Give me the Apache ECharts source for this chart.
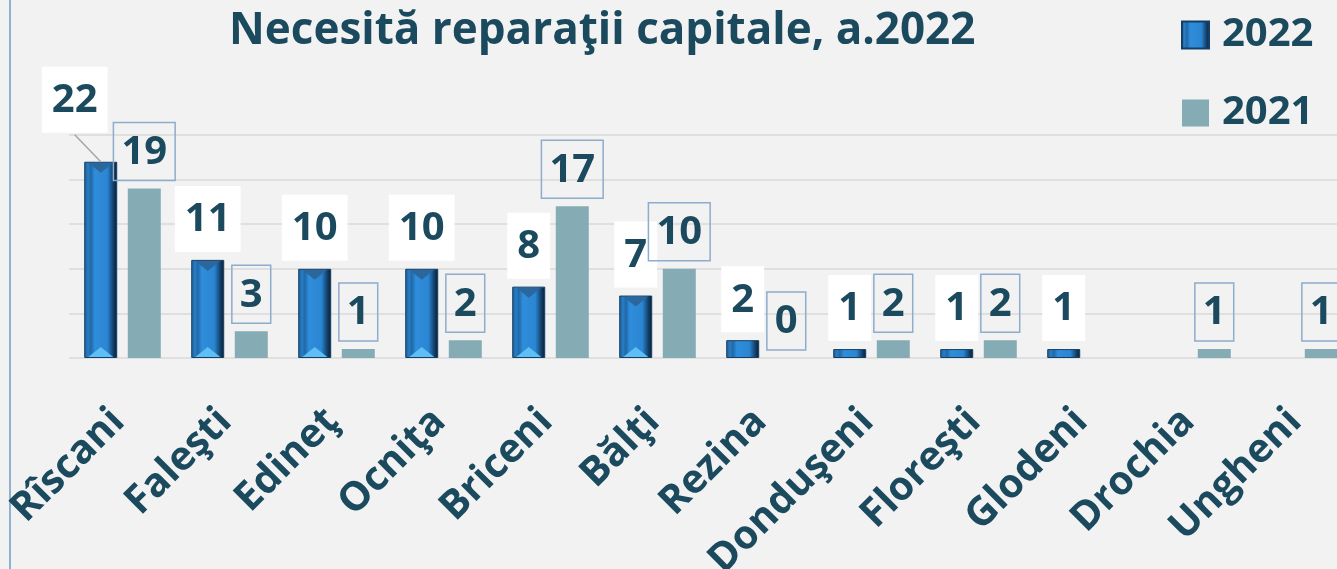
<!DOCTYPE html>
<html>
<head>
<meta charset="utf-8">
<script src="https://cdn.jsdelivr.net/npm/echarts@6/dist/echarts.min.js"></script>
<style>
  html, body { margin: 0; padding: 0; background: #f2f2f2; }
  #chart { width: 1337px; height: 569px; }
</style>
</head>
<body>
<div id="chart"></div>
<script>
const raioane = ['Rîscani', 'Faleşti', 'Edineţ', 'Ocniţa', 'Briceni', 'Bălţi', 'Rezina', 'Donduşeni', 'Floreşti', 'Glodeni', 'Drochia', 'Ungheni'];
const valori2022 = [22, 11, 10, 10, 8, 7, 2, 1, 1, 1, null, null];
const valori2021 = [19, 3, 1, 2, 17, 10, 0, 2, 2, null, 1, 1];
const axaY = { min: 0, max: 25, interval: 5 };

const dark = '#1b4a5e';
const font = 'Open Sans';

// beveled blue look for 2022 bars
const blueGrad = new echarts.graphic.LinearGradient(0, 0, 1, 0, [
  { offset: 0, color: '#1d5d96' },
  { offset: 0.12, color: '#2a7dc2' },
  { offset: 0.2, color: '#1f68a8' },
  { offset: 0.32, color: '#2f8ddb' },
  { offset: 0.7, color: '#2b86d2' },
  { offset: 0.8, color: '#1d5f9a' },
  { offset: 0.9, color: '#12395e' },
  { offset: 1, color: '#0a1e30' },
]);

// the "22" label sits up-left of its bar, with a leader line
const moveFirst = { dx: -26, dy: -21 };

const chart = echarts.init(document.getElementById('chart'), null, { renderer: 'canvas' });

chart.setOption({
  backgroundColor: '#f2f2f2',
  animation: false,
  title: {
    text: 'Necesită reparaţii capitale, a.2022',
    left: 224, top: 4,
    textStyle: { fontFamily: font, fontSize: 44, fontWeight: 'bold', color: dark },
  },
  legend: {
    data: ['2022', '2021'],
    orient: 'vertical',
    left: 1176, top: 10,
    itemWidth: 27, itemHeight: 27, itemGap: 38,
    icon: 'rect',
    selectedMode: false,
    textStyle: { fontFamily: font, fontSize: 40, fontWeight: 'bold', color: dark, padding: [0, 0, 0, 8] },
  },
  graphic: [{
    type: 'line',
    shape: { x1: 10, y1: 0, x2: 10, y2: 569 },
    style: { stroke: '#8fb0d0', lineWidth: 2 },
  }],
  grid: { left: 69, top: 135, width: 1284, bottom: 211, containLabel: false, outerBoundsMode: 'none' },
  xAxis: {
    type: 'category',
    data: raioane,
    axisLine: { show: false },
    axisTick: { show: false },
    axisLabel: {
      interval: 0, rotate: 45, margin: 53,
      padding: [58, 6, 0, 0],
      fontFamily: font, fontSize: 40, fontWeight: 'bold', color: dark,
    },
  },
  yAxis: {
    type: 'value',
    min: axaY.min, max: axaY.max, interval: axaY.interval,
    axisLabel: { show: false },
    axisLine: { show: false },
    axisTick: { show: false },
    splitLine: { lineStyle: { color: '#d9d9d9', width: 1.5 } },
  },
  series: [
    {
      name: '2022',
      type: 'bar',
      barWidth: 33, barGap: '32%',
      data: valori2022,
      itemStyle: { color: blueGrad, borderColor: '#123f66', borderWidth: 1 },
      label: {
        show: true, position: 'top', distance: 8,
        fontFamily: font, fontSize: 40, fontWeight: 'bold', color: dark,
        backgroundColor: '#ffffff', padding: [14, 10, 12, 10],
      },
      labelLayout: p => p.dataIndex === 0 ? { dx: moveFirst.dx, dy: moveFirst.dy } : null,
      z: 2,
    },
    {
      name: '2021',
      type: 'bar',
      barWidth: 33, barGap: '32%',
      data: valori2021,
      itemStyle: { color: '#85abb5' },
      label: {
        show: true, position: 'top', distance: 8,
        fontFamily: font, fontSize: 40, fontWeight: 'bold', color: dark,
        borderColor: '#8eaccb', borderWidth: 1.5, padding: [10, 8, 8, 8],
      },
      z: 2,
    },
    {
      // bottom bevel highlight
      type: 'pictorialBar',
      barWidth: 33, barGap: '-100%',
      data: valori2022.map(v => v >= 5 ? v : '-'),
      symbol: 'triangle', symbolSize: [25, 10], symbolPosition: 'start',
      symbolOffset: [-21.75, -1],
      itemStyle: { color: '#5ebef6' },
      silent: true, z: 3,
    },
    {
      // top bevel shade
      type: 'pictorialBar',
      barWidth: 33, barGap: '-100%',
      data: valori2022.map(v => v >= 5 ? v : '-'),
      symbol: 'triangle', symbolRotate: 180, symbolSize: [25, 10], symbolPosition: 'end',
      symbolOffset: [-21.75, 1],
      itemStyle: { color: '#2b679c' },
      silent: true, z: 3,
    },
  ],
});

// leader line from the moved label to the top of the first bar
const bar = chart.getModel().getSeriesByIndex(0).getData().getItemLayout(0);
const topX = bar.x + bar.width / 2;
const topY = bar.y + bar.height;
chart.setOption({
  graphic: [
    { type: 'line', shape: { x1: 10, y1: 0, x2: 10, y2: 569 }, style: { stroke: '#8fb0d0', lineWidth: 2 } },
    {
      type: 'line', z: 10,
      shape: { x1: topX + moveFirst.dx, y1: topY + moveFirst.dy - 6, x2: topX, y2: topY },
      style: { stroke: '#a6a6a6', lineWidth: 1.5 },
    },
  ],
});
</script>
</body>
</html>
